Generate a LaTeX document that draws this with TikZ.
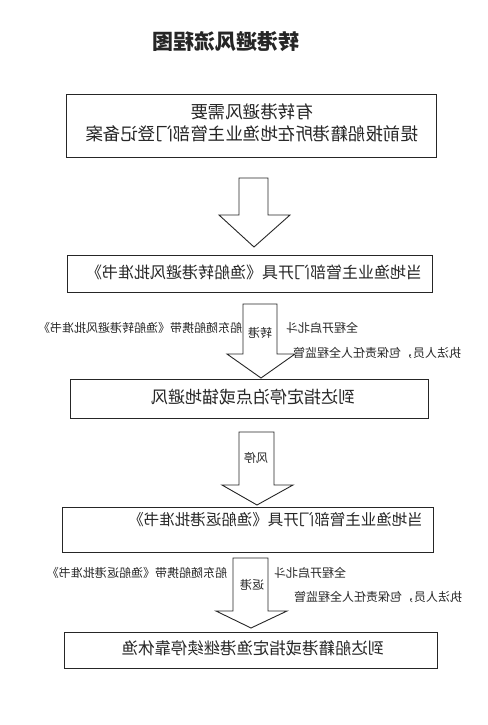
\documentclass[tikz,border=0pt]{standalone}
\usepackage{fontspec}
\usepackage{graphicx}
\setmainfont{Noto Sans CJK SC}
\newfontfamily\cjk{Noto Sans CJK SC}
\begin{document}
\begin{tikzpicture}[x=1pt,y=-1pt,
  box/.style={draw=black!85,line width=0.9pt},
  blockarrow/.style={draw=black!85,line width=0.9pt,fill=white},
  txt/.style={inner sep=0pt,text=black!85},
  small/.style={txt,font=\cjk\fontsize{12}{14}\selectfont}]
\useasboundingbox (0,0) rectangle (487,725);
% title
\node[txt,font=\cjk\bfseries\fontsize{21}{24}\selectfont] (title) at (226,42) {\reflectbox{转港避风流程图}};
% box 1
\draw[box] (66,94) rectangle (436,157);
\node[txt,font=\cjk\fontsize{17.5}{20}\selectfont] (b1a) at (252,112) {\reflectbox{有转港避风需要}};
\node[txt,font=\cjk\fontsize{17.5}{20}\selectfont] (b1b) at (252,134) {\reflectbox{提前报船籍港所在地渔业主管部门登记备案}};
% arrow 1
\draw[blockarrow] (239,178) -- (268,178) -- (268,215) -- (290,215) -- (254,247) -- (219,215) -- (239,215) -- cycle;
% box 2
\draw[box] (67,255) rectangle (432,292);
\node[txt,font=\cjk\fontsize{16}{19}\selectfont] (b2) at (254,272) {\reflectbox{当地渔业主管部门开具《渔船转港避风批准书》}};
% arrow 2
\draw[blockarrow] (243,304) -- (277,304) -- (277,354) -- (295,354) -- (261,378) -- (227,354) -- (243,354) -- cycle;
\node[small] (a2l) at (260,333) {\reflectbox{转港}};
\node[small] (a2t1) at (140,328) {\reflectbox{船东随船携带《渔船转港避风批准书》}};
\node[small] (a2t2) at (322,328) {\reflectbox{全程开启北斗}};
\node[small] (a2t3) at (377,353) {\reflectbox{执法人员，包保责任人全程监管}};
% box 3
\draw[box] (70,379) rectangle (428,418);
\node[txt,font=\cjk\fontsize{17}{20}\selectfont] (b3) at (253,397) {\reflectbox{到达指定停泊点或锚地避风}};
% arrow 3
\draw[blockarrow] (239,432) -- (274,432) -- (274,485) -- (293,485) -- (257,505) -- (222,485) -- (239,485) -- cycle;
\node[small] (a3l) at (256,458) {\reflectbox{风停}};
% box 4
\draw[box] (62,507) rectangle (433,552);
\node[txt,anchor=east,font=\cjk\fontsize{15.5}{18}\selectfont] (b4) at (423,520) {\reflectbox{当地渔业主管部门开具《渔船返港批准书》}};
% arrow 4
\draw[blockarrow] (233,558) -- (268,558) -- (268,611) -- (287,611) -- (251,628) -- (216,611) -- (233,611) -- cycle;
\node[small] (a4l) at (252,585) {\reflectbox{返港}};
\node[small] (a4t1) at (137,573) {\reflectbox{船东随船携带《渔船返港批准书》}};
\node[small] (a4t2) at (310,573) {\reflectbox{全程开启北斗}};
\node[small] (a4t3) at (378,597) {\reflectbox{执法人员，包保责任人全程监管}};
% box 5
\draw[box] (64,632) rectangle (437,668);
\node[txt,font=\cjk\fontsize{16.4}{19}\selectfont] (b5) at (253,648) {\reflectbox{到达船籍港或指定渔港继续停靠休渔}};
\end{tikzpicture}
\end{document}
